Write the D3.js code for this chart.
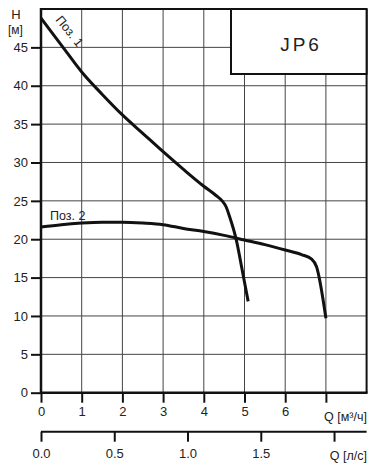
<!DOCTYPE html>
<html>
<head>
<meta charset="utf-8">
<script src="https://cdn.jsdelivr.net/npm/d3@7"></script>
<style>
  body { margin: 0; background: #fff; }
  svg text { font-family: "Liberation Sans", Arial, sans-serif; fill: #222; }
</style>
</head>
<body>
<svg id="chart" width="372" height="469"></svg>
<script>
// кривые H(Q), Q в м3/ч, H в м
var q1 = [0, 0.5, 1, 1.5, 2, 2.5, 3, 3.5, 4, 4.3, 4.45, 4.55, 4.63, 4.79, 4.95, 5.09];
var h1 = [48.8, 45.3, 41.8, 38.9, 36.2, 33.8, 31.4, 29.1, 26.9, 25.7, 25.0, 24.2, 23.0, 20.1, 15.8, 11.9];
var q2 = [0, 0.5, 1, 1.5, 2, 2.5, 3, 3.5, 4, 4.5, 5, 5.5, 6, 6.4, 6.65, 6.77, 7.0];
var h2 = [21.6, 21.9, 22.1, 22.2, 22.2, 22.1, 21.9, 21.4, 21.0, 20.5, 19.9, 19.3, 18.6, 18.0, 17.4, 16.4, 9.7];

var hTicks = [0, 5, 10, 15, 20, 25, 30, 35, 40, 45];
var qTicks = [0, 1, 2, 3, 4, 5, 6, 7];
var qLabels = ["0", "1", "2", "3", "4", "5", "6", ""];
var lsTicks = [0, 0.5, 1.0, 1.5, 2.0];
var lsLabels = ["0.0", "0.5", "1.0", "1.5", ""];

var svg = d3.select("#chart");
var x = d3.scaleLinear().domain([0, 8]).range([41, 366.6]);
var y = d3.scaleLinear().domain([0, 50]).range([392.7, 9]);
// л/с = м3/ч / 3.6
var xl = d3.scaleLinear().domain([0, 8 / 3.6]).range([41, 366.6]);

// сетка
var grid = svg.append("g").attr("stroke", "#444").attr("stroke-width", 1);
d3.range(1, 8).forEach(function(v){
  grid.append("line").attr("x1", x(v)).attr("x2", x(v)).attr("y1", y(50)).attr("y2", y(0));
});
d3.range(5, 50, 5).forEach(function(v){
  grid.append("line").attr("x1", x(0)).attr("x2", x(8)).attr("y1", y(v)).attr("y2", y(v));
});

// рамка
svg.append("line").attr("x1", x(0)).attr("x2", x(8)).attr("y1", y(50)).attr("y2", y(50))
  .attr("stroke", "#111").attr("stroke-width", 2);
svg.append("line").attr("x1", x(8)).attr("x2", x(8)).attr("y1", y(50)).attr("y2", y(0))
  .attr("stroke", "#111").attr("stroke-width", 2);

// оси
var yAxis = svg.append("g").attr("transform", "translate(" + x(0) + ",0)")
  .call(d3.axisLeft(y).tickValues(hTicks).tickSize(10).tickPadding(3));
var xAxis = svg.append("g").attr("transform", "translate(0," + y(0) + ")")
  .call(d3.axisBottom(x).tickValues(qTicks).tickSize(10).tickPadding(4)
    .tickFormat(function(d, i){ return qLabels[i]; }));
var lAxis = svg.append("g").attr("transform", "translate(0,431.7)")
  .call(d3.axisBottom(xl).tickValues(lsTicks).tickSize(10).tickPadding(7)
    .tickFormat(function(d, i){ return lsLabels[i]; }));

[yAxis, xAxis, lAxis].forEach(function(a){
  a.select(".domain").remove();
  a.selectAll(".tick line").attr("stroke", "#111").attr("stroke-width", 2);
  a.selectAll(".tick text").attr("font-size", 13).attr("font-family", null);
});
svg.append("line").attr("x1", x(0)).attr("x2", x(8)).attr("y1", 431.7).attr("y2", 431.7)
  .attr("stroke", "#111").attr("stroke-width", 2);
svg.append("line").attr("x1", x(0)).attr("x2", x(0)).attr("y1", y(50) - 1).attr("y2", y(0) + 1)
  .attr("stroke", "#111").attr("stroke-width", 2.5);
svg.append("line").attr("x1", x(0) - 1).attr("x2", x(8) + 1).attr("y1", y(0)).attr("y2", y(0))
  .attr("stroke", "#111").attr("stroke-width", 2.5);

// подписи осей
svg.append("text").attr("x", 16).attr("y", 19).attr("text-anchor", "middle").attr("font-size", 13).text("H");
svg.append("text").attr("x", 15.5).attr("y", 34).attr("text-anchor", "middle").attr("font-size", 12).text("[м]");
svg.append("text").attr("x", 367).attr("y", 420.5).attr("text-anchor", "end").attr("font-size", 12.5).text("Q [м³/ч]");
svg.append("text").attr("x", 367).attr("y", 459.5).attr("text-anchor", "end").attr("font-size", 12.5).text("Q [л/с]");

// кривые
var line = d3.line().x(function(d){ return x(d[0]); }).y(function(d){ return y(d[1]); })
  .curve(d3.curveMonotoneX);
var curves = [d3.zip(q1, h1), d3.zip(q2, h2)];
svg.selectAll(".curve").data(curves).enter().append("path")
  .attr("class", "curve")
  .attr("d", line)
  .attr("fill", "none")
  .attr("stroke", "#111")
  .attr("stroke-width", 3);

svg.append("text").attr("transform", "translate(55,20) rotate(51)").attr("font-size", 12.5).text("Поз. 1");
svg.append("text").attr("x", 50).attr("y", 219.5).attr("font-size", 12.5).text("Поз. 2");

// табличка
svg.append("rect").attr("x", 231).attr("y", y(50)).attr("width", x(8) - 231).attr("height", 65)
  .attr("fill", "#fff").attr("stroke", "#111").attr("stroke-width", 2);
svg.append("text").attr("x", 301).attr("y", 51).attr("text-anchor", "middle")
  .attr("font-size", 19).attr("letter-spacing", 3).text("JP6");
</script>
</body>
</html>
